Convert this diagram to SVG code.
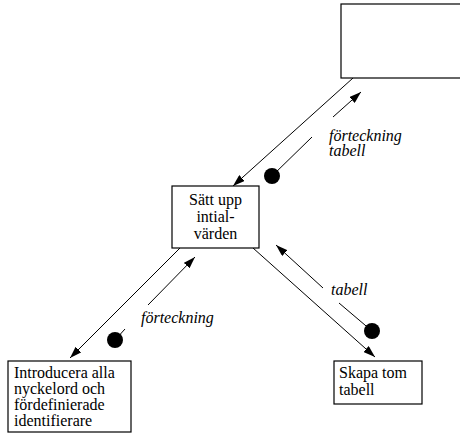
<svg xmlns="http://www.w3.org/2000/svg" width="460" height="437" viewBox="0 0 460 437">
  <defs>
    <marker id="arrow" viewBox="0 0 12 8" refX="12" refY="4" markerWidth="12" markerHeight="8" markerUnits="userSpaceOnUse" orient="auto">
      <path d="M0,0 L12,4 L0,8 Z" fill="#000"/>
    </marker>
    <style>
      .box { fill: #fff; stroke: #000; stroke-width: 1.2; }
      .txt { font-size: 16px; fill: #000; }
      .lbl { font-size: 16px; font-style: italic; fill: #000; }
      .edge { stroke: #000; stroke-width: 1; fill: none; }
      .dot { fill: #000; }
    </style>
  </defs>

  <rect width="460" height="437" fill="#fff"/>

  <!-- connectors -->
  <g id="connectors" font-family="'Liberation Serif', 'DejaVu Serif', serif">
    <!-- top box -> setup -->
    <line class="edge" x1="353" y1="78" x2="233" y2="186" marker-end="url(#arrow)"/>
    <circle class="dot" cx="272" cy="176" r="8"/>
    <line class="edge" x1="272" y1="176" x2="312" y2="137"/>
    <line class="edge" x1="333" y1="117" x2="361" y2="92" marker-end="url(#arrow)"/>
    <text class="lbl" x="329" y="141">förteckning</text>
    <text class="lbl" x="329" y="156">tabell</text>

    <!-- setup -> introduce keywords -->
    <line class="edge" x1="180" y1="248" x2="70" y2="358" marker-end="url(#arrow)"/>
    <circle class="dot" cx="115" cy="340" r="8"/>
    <line class="edge" x1="115" y1="340" x2="125" y2="329"/>
    <line class="edge" x1="148" y1="305" x2="195" y2="257" marker-end="url(#arrow)"/>
    <text class="lbl" x="141" y="323">förteckning</text>

    <!-- setup -> create table -->
    <line class="edge" x1="253" y1="248" x2="375" y2="357" marker-end="url(#arrow)"/>
    <circle class="dot" cx="372" cy="331" r="8"/>
    <line class="edge" x1="372" y1="331" x2="339" y2="303"/>
    <line class="edge" x1="323" y1="288" x2="276" y2="245" marker-end="url(#arrow)"/>
    <text class="lbl" x="331" y="295">tabell</text>
  </g>

  <g id="top-box">
    <rect class="box" x="341" y="4" width="125" height="74"/>
  </g>

  <g id="setup" font-family="'Liberation Serif', 'DejaVu Serif', serif">
    <rect class="box" x="172" y="186" width="87" height="62"/>
    <text class="txt" x="215.5" y="205" text-anchor="middle">Sätt upp</text>
    <text class="txt" x="215.5" y="222" text-anchor="middle">intial-</text>
    <text class="txt" x="215.5" y="239" text-anchor="middle">värden</text>
  </g>

  <g id="introduce" font-family="'Liberation Serif', 'DejaVu Serif', serif">
    <rect class="box" x="8" y="361" width="123" height="71"/>
    <text class="txt" x="14" y="378">Introducera alla</text>
    <text class="txt" x="14" y="394">nyckelord och</text>
    <text class="txt" x="14" y="410">fördefinierade</text>
    <text class="txt" x="14" y="426">identifierare</text>
  </g>

  <g id="create-table" font-family="'Liberation Serif', 'DejaVu Serif', serif">
    <rect class="box" x="334" y="361" width="88" height="43"/>
    <text class="txt" x="339" y="378">Skapa tom</text>
    <text class="txt" x="339" y="395">tabell</text>
  </g>
</svg>
